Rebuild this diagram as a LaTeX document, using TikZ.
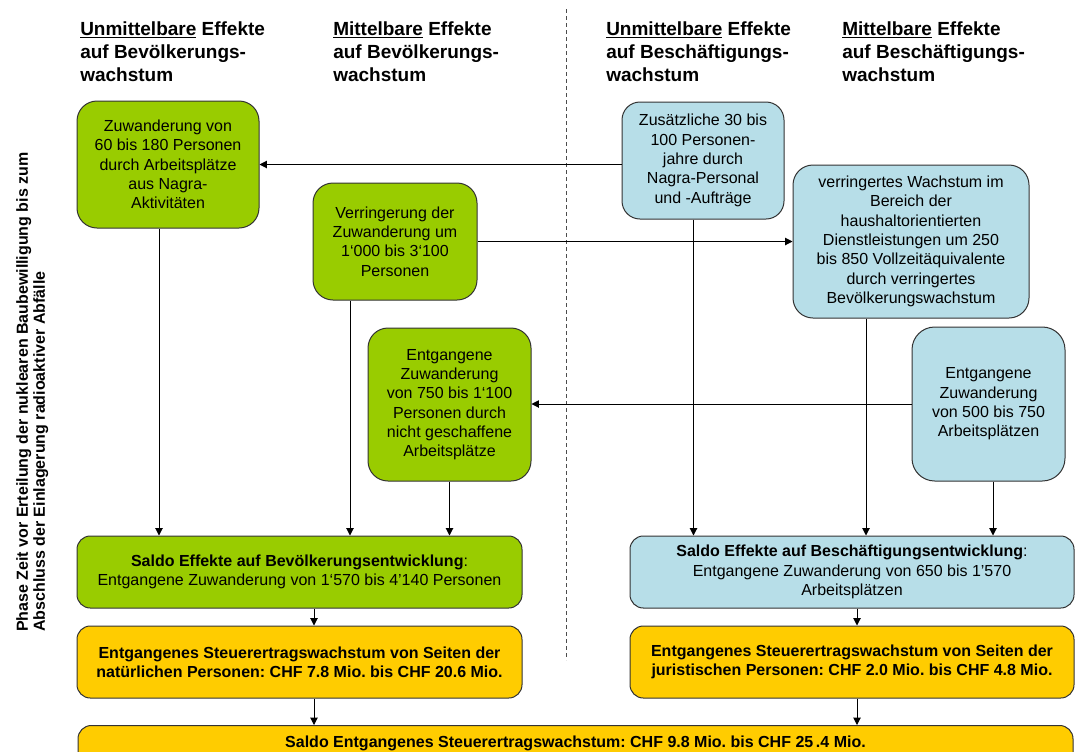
\documentclass[tikz,border=0pt]{standalone}
\usepackage{fontspec}
\setmainfont{Liberation Sans}
\usetikzlibrary{arrows.meta}
\definecolor{cgreen}{HTML}{99CC00}
\definecolor{cblue}{HTML}{B7DEE8}
\definecolor{cyellow}{HTML}{FFCC00}
\newcommand{\myul}[1]{\setbox0\hbox{#1}\rlap{\rule[-2pt]{\wd0}{0.9pt}}\box0\relax}
\frenchspacing
\begin{document}
\frenchspacing
\begin{tikzpicture}[x=0.75pt,y=-0.75pt,
  basebox/.style={draw=black!80, line width=0.75pt, align=center, inner sep=0pt,
    font=\fontsize{12}{14.5}\selectfont},
  gbox/.style={basebox, fill=cgreen, rounded corners=#1},
  gbox/.default=15pt,
  bbox/.style={basebox, fill=cblue, rounded corners=#1},
  bbox/.default=15pt,
  ybox/.style={basebox, fill=cyellow, rounded corners=#1, font=\bfseries\fontsize{12}{14.5}\selectfont},
  ybox/.default=10pt,
  hdr/.style={anchor=north west, inner sep=0pt, align=left,
    font=\bfseries\fontsize{14.25}{17.25}\selectfont},
  arr/.style={-{Triangle[length=5.5pt,width=5.5pt]}, line width=0.75pt, draw=black},
  dashline/.style={draw=black!70, line width=0.75pt, dash pattern=on 3pt off 2.25pt}
]
\clip (0,0) rectangle (1075,751);
\fill[white] (0,0) rectangle (1075,751);

% headers
\node[hdr] (h1) at (80,21.4) {\myul{Unmittelbare} Effekte\\auf Bevölkerungs-\\wachstum};
\node[hdr] (h2) at (333,21.4) {\myul{Mittelbare} Effekte\\auf Bevölkerungs-\\wachstum};
\node[hdr] (h3) at (606,21.4) {\myul{Unmittelbare} Effekte\\auf Beschäftigungs-\\wachstum};
\node[hdr] (h4) at (842,21.4) {\myul{Mittelbare} Effekte\\auf Beschäftigungs-\\wachstum};

% dashed separator
\draw[dashline] (566,9) -- (566,660);

% side label
\node[rotate=90, anchor=north west, inner sep=0pt, align=left,
  font=\bfseries\fontsize{12}{12.75}\selectfont] (side) at (16,632)
  {Phase Zeit vor Erteilung der nuklearen Baubewilligung bis zum\\Abschluss der Einlagerung radioaktiver Abfälle};

% boxes
\node[gbox, minimum width=136.5pt, minimum height=95.25pt] (b1) at (168,164.5)
  {Zuwanderung von\\60 bis 180 Personen\\durch Arbeitsplätze\\aus Nagra-\\Aktivitäten};
\node[gbox, minimum width=123pt, minimum height=87.75pt] (b2) at (395,241.5)
  {Verringerung der\\Zuwanderung um\\1‘000 bis 3‘100\\Personen};
\node[gbox, minimum width=122.25pt, minimum height=114.75pt] (b3) at (449.5,404.5)
  {Entgangene\\Zuwanderung\\von 750 bis 1‘100\\Personen durch\\nicht geschaffene\\Arbeitsplätze};
\node[bbox=13.5pt, minimum width=121.5pt, minimum height=87.75pt] (b4) at (703,160.5)
  {Zusätzliche 30 bis\\100 Personen-\\jahre durch\\Nagra-Personal\\und -Aufträge};
\node[bbox, minimum width=177pt, minimum height=114.75pt] (b5) at (911,241.5)
  {verringertes Wachstum im\\Bereich der\\haushaltorientierten\\Dienstleistungen um 250\\bis 850 Vollzeitäquivalente\\durch verringertes\\Bevölkerungswachstum};
\node[bbox=17pt, minimum width=114.75pt, minimum height=115.5pt] (b6) at (988.5,404)
  {Entgangene\\Zuwanderung\\von 500 bis 750\\Arbeitsplätzen};
\node[gbox=10pt, minimum width=333.75pt, minimum height=54pt] (b7) at (299.5,572)
  {\textbf{Saldo Effekte auf Bevölkerungsentwicklung}:\\Entgangene Zuwanderung von 1‘570 bis 4’140 Personen};
\node[ybox, minimum width=333.75pt, minimum height=54pt] (b8) at (299.5,662)
  {Entgangenes Steuerertragswachstum von Seiten der\\natürlichen Personen: CHF 7.8 Mio. bis CHF 20.6 Mio.};
\node[bbox=10pt, minimum width=333pt, minimum height=54pt] (b9) at (852,572)
  {\textbf{Saldo Effekte auf Beschäftigungsentwicklung}:\\Entgangene Zuwanderung von 650 bis 1’570\\Arbeitsplätzen};
\node[ybox, minimum width=333pt, minimum height=54pt] (b10) at (852,662)
  {Entgangenes Steuerertragswachstum von Seiten der\\juristischen Personen: CHF 2.0 Mio. bis CHF 4.8 Mio.};
\node[ybox, anchor=north, minimum width=746.25pt, minimum height=45pt,
  text height=9pt, text depth=21.5pt] (b11) at (575.5,725)
  {Saldo Entgangenes Steuerertragswachstum: CHF 9.8 Mio. bis CHF 25\,.4 Mio.};

% x positions of vertical connectors
\coordinate (xa) at (159,0);
\coordinate (xb) at (350,0);
\coordinate (xc) at (693.5,0);
\coordinate (xd) at (866,0);
\coordinate (xe) at (993,0);
\coordinate (xf) at (314,0);
\coordinate (xg) at (857,0);

% horizontal connectors
\draw[arr] (b4.west |- b1.east) -- (b1.east);
\draw[arr] (b2.east) -- (b2.east -| b5.west);
\draw[arr] (b6.west) -- (b6.west -| b3.east);

% vertical connectors
\draw[arr] (b1.south -| xa) -- (b7.north -| xa);
\draw[arr] (b2.south -| xb) -- (b7.north -| xb);
\draw[arr] (b3.south) -- (b3.south |- b7.north);
\draw[arr] (b4.south -| xc) -- (b9.north -| xc);
\draw[arr] (b5.south -| xd) -- (b9.north -| xd);
\draw[arr] (b6.south -| xe) -- (b9.north -| xe);
\draw[arr] (b7.south -| xf) -- (b8.north -| xf);
\draw[arr] (b8.south -| xf) -- (b11.north -| xf);
\draw[arr] (b9.south -| xg) -- (b10.north -| xg);
\draw[arr] (b10.south -| xg) -- (b11.north -| xg);
\end{tikzpicture}
\end{document}
